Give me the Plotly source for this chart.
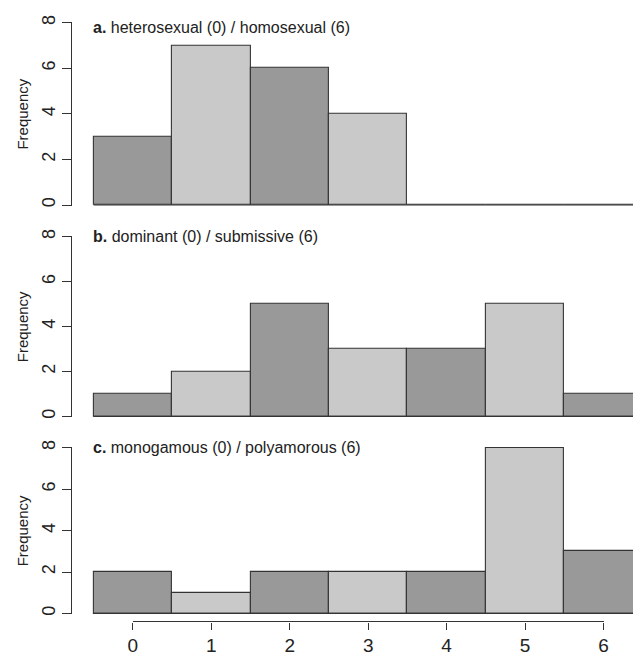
import plotly.graph_objects as go

categories = [0, 1, 2, 3, 4, 5, 6]
tick_labels = ["0", "1", "2", "3", "4", "5", "6"]
panel_a = [3, 7, 6, 4, 0, 0, 0]
panel_b = [1, 2, 5, 3, 3, 5, 1]
panel_c = [2, 1, 2, 2, 2, 8, 3]
titles = [
    ("a.", "heterosexual (0) / homosexual (6)"),
    ("b.", "dominant (0) / submissive (6)"),
    ("c.", "monogamous (0) / polyamorous (6)"),
]

W, H = 638, 656
DARK = "#999999"
LIGHT = "#c9c9c9"
EDGE = "#333333"
FONT = "Liberation Sans, Arial, sans-serif"

# pixel positions (top of value 8, bottom at value 0) for each panel
panel_px = [(15, 202), (232.3, 416.7), (446.7, 616.7)]
title_px = [21, 233, 447]
x_left_px = 68
bar_left_px = 90
unit_px = 79.7

x0 = -0.5 - (bar_left_px - x_left_px) / unit_px
x1 = -0.5 + (W - bar_left_px) / unit_px

colors = [DARK if i % 2 == 0 else LIGHT for i in range(len(categories))]

fig = go.Figure()
data = [panel_a, panel_b, panel_c]
annotations = []
for i, vals in enumerate(data):
    sfx = "" if i == 0 else str(i + 1)
    fig.add_trace(go.Bar(
        x=categories, y=vals, width=1,
        marker=dict(color=colors, line=dict(color=EDGE, width=1.1)),
        xaxis="x" + sfx, yaxis="y" + sfx, hoverinfo="skip", showlegend=False,
    ))
    fig.add_trace(go.Scatter(
        x=[categories[0] - 0.5, categories[-1] + 0.5], y=[0, 0], mode="lines",
        line=dict(color=EDGE, width=1.2),
        xaxis="x" + sfx, yaxis="y" + sfx, hoverinfo="skip", showlegend=False,
    ))
    top, bot = panel_px[i]
    dom = [1 - bot / H, 1 - top / H]
    fig.layout["xaxis" + sfx] = dict(
        domain=[x_left_px / W, 1], range=[x0, x1], visible=False,
        anchor="y" + sfx, fixedrange=True,
    )
    fig.layout["yaxis" + sfx] = dict(
        domain=dom, range=[-0.04, 8.04], anchor="x" + sfx,
        tickvals=[0, 2, 4, 6, 8], ticktext=["0", "2", "4", "6", "8"],
        tickangle=-90, ticks="outside", ticklen=9, tickwidth=1.2, tickcolor="#333",
        showline=True, linecolor="#333", linewidth=1.2,
        showgrid=False, zeroline=False,
        tickfont=dict(family=FONT, size=18, color="#222"),
        fixedrange=True,
    )
    annotations.append(dict(
        x=(bar_left_px - 3) / W, y=1 - title_px[i] / H, xref="paper", yref="paper",
        xanchor="left", yanchor="middle", showarrow=False,
        text="<b>%s</b> %s" % titles[i],
        font=dict(family=FONT, size=16, color="#222"),
    ))
    annotations.append(dict(
        x=18 / W, y=1 - (top + bot) / 2 / H, xref="paper", yref="paper",
        xanchor="center", yanchor="middle", showarrow=False, textangle=-90,
        text="Frequency", font=dict(family=FONT, size=15, color="#222"),
    ))

# bottom x axis (spans first to last category, like R's axis)
fig.add_trace(go.Scatter(
    x=[categories[0], categories[-1]], y=[0, 0], mode="markers",
    marker=dict(opacity=0), xaxis="x4", yaxis="y4",
    hoverinfo="skip", showlegend=False,
))
fig.layout["xaxis4"] = dict(
    domain=[(bar_left_px + 0.5 * unit_px) / W, (bar_left_px + 6.5 * unit_px) / W],
    range=[categories[0], categories[-1]], anchor="free", position=1 - 624 / H,
    tickvals=categories, ticktext=tick_labels,
    ticks="outside", ticklen=7, tickwidth=1.2, tickcolor="#333",
    showline=True, linecolor="#333", linewidth=1.2,
    showgrid=False, zeroline=False,
    tickfont=dict(family=FONT, size=19, color="#222"), fixedrange=True,
)
fig.layout["yaxis4"] = dict(domain=[0, 0.04], visible=False, anchor="x4", fixedrange=True)

fig.update_layout(
    width=W, height=H, margin=dict(l=0, r=0, t=0, b=0),
    paper_bgcolor="white", plot_bgcolor="white",
    annotations=annotations, bargap=0, showlegend=False,
)

fig.write_html(
    "out.html", config={"displayModeBar": False},
    post_script="document.body.style.margin='0';document.body.style.overflow='hidden';",
)
